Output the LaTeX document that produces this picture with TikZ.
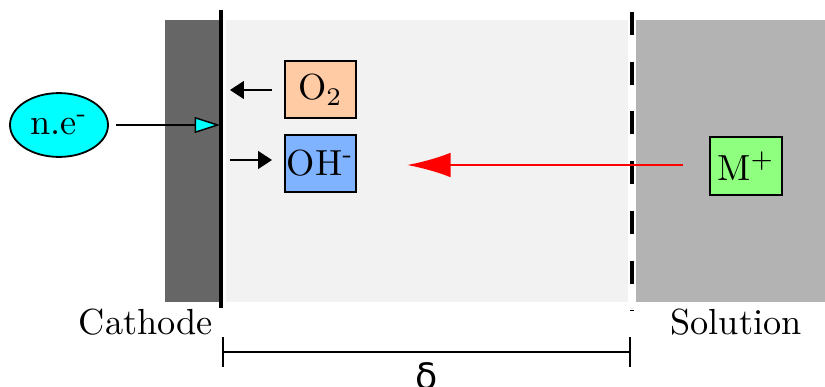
\documentclass[tikz,border=0pt]{standalone}
\usepackage{fontspec}
\newfontfamily\dejavu{DejaVu Sans}
\usetikzlibrary{arrows.meta,shapes.geometric}
\definecolor{cathodegray}{HTML}{666666}
\definecolor{layergray}{HTML}{F2F2F2}
\definecolor{solgray}{HTML}{B3B3B3}
\definecolor{peach}{HTML}{FFCBA4}
\definecolor{bluebox}{HTML}{80B3FF}
\definecolor{greenbox}{HTML}{8FFF80}
\definecolor{cyanfill}{HTML}{00FFFF}
\definecolor{redarrow}{HTML}{FF0000}
\tikzset{
  species/.style={draw=black, line width=0.45pt, minimum width=19.6pt, minimum height=15.7pt, inner sep=0pt},
  smallarrow/.style={line width=0.75pt, -{Triangle[length=3.8pt,width=4.8pt]}},
}
\begin{document}
\begin{tikzpicture}[x=0.2755pt, y=-0.2755pt]
\useasboundingbox (0,0) rectangle (825,387);
% regions
\fill[cathodegray] (165,20) rectangle (220,302);
\fill[layergray] (226,20) rectangle (628,302);
\fill[solgray] (636,20) rectangle (825,302);
% boundaries
\coordinate (ctop) at (221,10);
\coordinate (cbot) at (221,308);
\draw[line width=0.85pt] (ctop) -- (cbot);
\coordinate (stop) at (632,12);
\coordinate (sbot) at (632,311);
\draw[line width=1.05pt, dash pattern=on 6.34pt off 7.36pt] (stop) -- (sbot);
% electron source
\node[ellipse, draw=black, line width=0.5pt, fill=cyanfill, minimum width=27pt, minimum height=17.6pt, inner sep=0pt] (ne) at (59,125) {n.e\textsuperscript{-}};
\coordinate (cface) at (220,125);
\draw[line width=0.4pt, -{Triangle[length=7pt,width=4.4pt,fill=cyanfill]}] ([xshift=2pt]ne.east) -- (cface);
% species
\node[species, fill=peach] (o2) at (320.5,89.5) {O$_2$};
\node[species, fill=bluebox] (oh) at (320.5,163.5) {OH\textsuperscript{-}};
\node[species, fill=greenbox, minimum width=19.8pt, minimum height=16pt] (m) at (746,166) {M$^+$};
% small arrows
\coordinate (o2a) at (272,90);
\coordinate (o2b) at (230,90);
\draw[smallarrow] (o2a) -- (o2b);
\coordinate (oha) at (230,160);
\coordinate (ohb) at (272,160);
\draw[smallarrow] (oha) -- (ohb);
% red migration arrow
\coordinate (redstart) at (683,165);
\coordinate (redend) at (407,165);
\draw[redarrow, line width=0.7pt, -{Latex[length=12pt,width=6.8pt]}] (redstart) -- (redend);
% labels
\node (cathode) at (146,322) {Cathode};
\node (solution) at (736,322) {Solution};
% delta dimension
\coordinate (d1) at (222,352);
\coordinate (d2) at (631,352);
\draw[line width=0.6pt, {Bar[width=8pt]}-{Bar[width=8pt]}] (d1) -- (d2);
\node[anchor=north, inner sep=0pt] (delta) at (427,362) {\dejavu δ};
\end{tikzpicture}
\end{document}
